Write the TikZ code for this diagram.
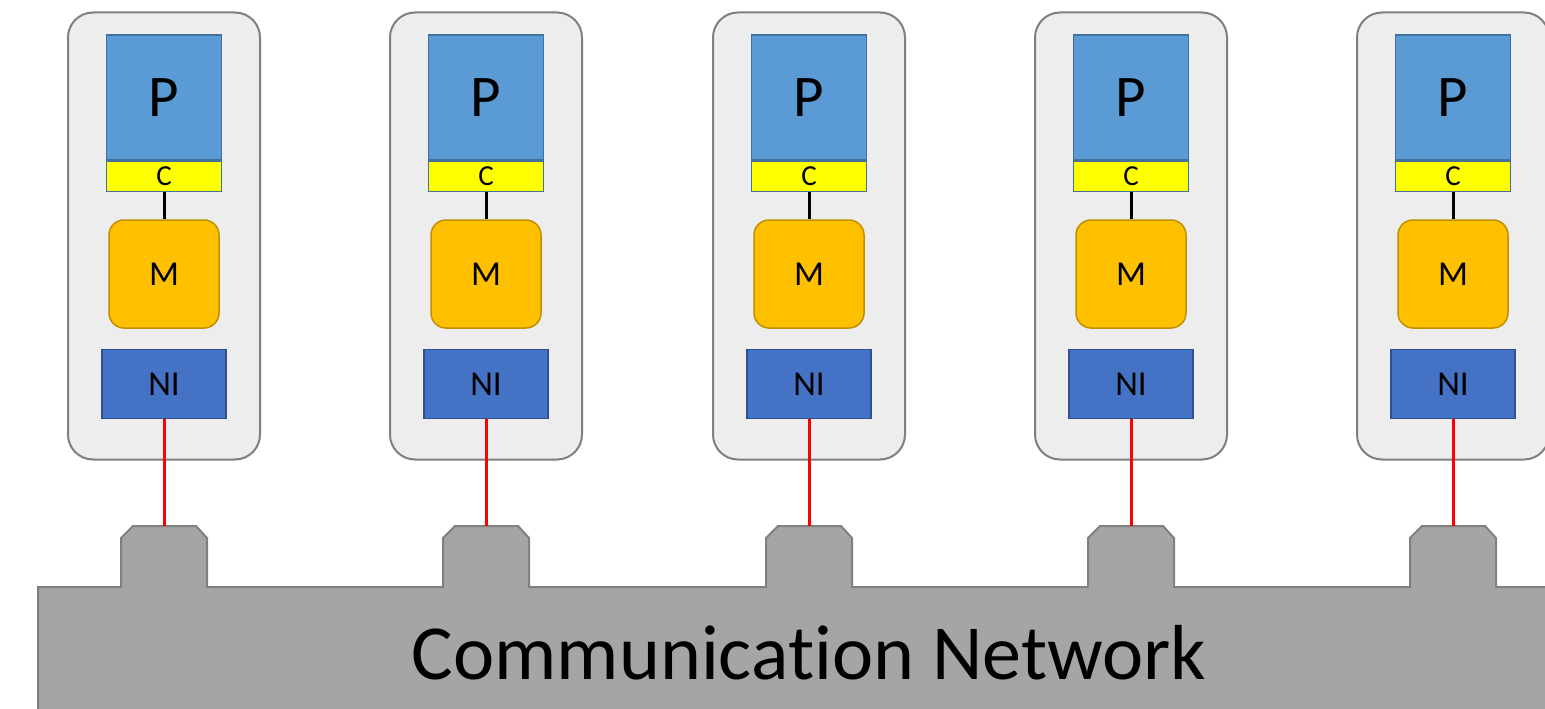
\documentclass[tikz,border=0pt]{standalone}
\usepackage{fontspec}
\setmainfont[Ligatures=NoCommon]{Carlito}
\usetikzlibrary{positioning}

\definecolor{tilegray}{HTML}{EDEDED}
\definecolor{tileedge}{HTML}{7F7F7F}
\definecolor{procblue}{HTML}{5B9BD5}
\definecolor{procedge}{HTML}{41719C}
\definecolor{cacheyellow}{HTML}{FFFF00}
\definecolor{memgold}{HTML}{FFC000}
\definecolor{memedge}{HTML}{BF9000}
\definecolor{niblue}{HTML}{4472C4}
\definecolor{niedge}{HTML}{2F528F}
\definecolor{netgray}{HTML}{A5A5A5}
\definecolor{netedge}{HTML}{808080}
\definecolor{linkred}{HTML}{FF0000}

\begin{document}
\begin{tikzpicture}[x=1pt,y=-1pt,
    tile/.style={draw=tileedge, line width=2pt, fill=tilegray, rounded corners=25pt,
        minimum width=192pt, minimum height=447pt, inner sep=0pt},
    proc/.style={draw=procedge, line width=1.5pt, fill=procblue, minimum width=115pt,
        minimum height=125pt, inner sep=0pt, font=\fontsize{59}{60}\selectfont},
    cache/.style={draw=procedge, line width=1.5pt, fill=cacheyellow, minimum width=115pt,
        minimum height=30pt, inner sep=0pt, font=\fontsize{29}{30}\selectfont},
    mem/.style={draw=memedge, line width=1.5pt, fill=memgold, rounded corners=15pt,
        minimum width=110pt, minimum height=108pt, inner sep=0pt, font=\fontsize{35}{36}\selectfont},
    ni/.style={draw=niedge, line width=1.5pt, fill=niblue, minimum width=124pt,
        minimum height=69pt, inner sep=0pt, font=\fontsize{35}{36}\selectfont},
    wire/.style={black, line width=3pt},
    link/.style={linkred, line width=3pt},
    net/.style={draw=netedge, line width=2pt, fill=netgray}]

    \useasboundingbox (0,0) rectangle (1545,709);
    \clip (0,0) rectangle (1545,709);

    % Communication network with one port per tile
    \draw[net] (38,720) -- (38,587)
        \foreach \x in {164,486,809,1131,1453} {
            -- (\x-43,587) -- (\x-43,538) -- (\x-31,526) -- (\x+32,526) -- (\x+43,538) -- (\x+43,587)
        } -- (1560,587) -- (1560,720) -- cycle;
    \node (net) at (809,653) {\fontsize{78}{80}\selectfont Communica\kern0pt tion Network};

    % Tiles
    \foreach \i/\x in {1/164,2/486,3/809,4/1131,5/1453} {
        \node[tile] (tile\i) at (\x,236) {};
        \node[proc] (p\i) at (\x,97.5) {P};
        \node[cache, below=0pt of p\i] (c\i) {C};
        \node[mem] (m\i) at (\x,274) {M};
        \node[ni] (ni\i) at (\x,384) {NI};
        \coordinate (port\i) at (\x,526);

        \draw[wire] (c\i) -- (m\i); % cache to memory
        \draw[link] (ni\i) -- (port\i); % NI to network port
    }
\end{tikzpicture}
\end{document}
